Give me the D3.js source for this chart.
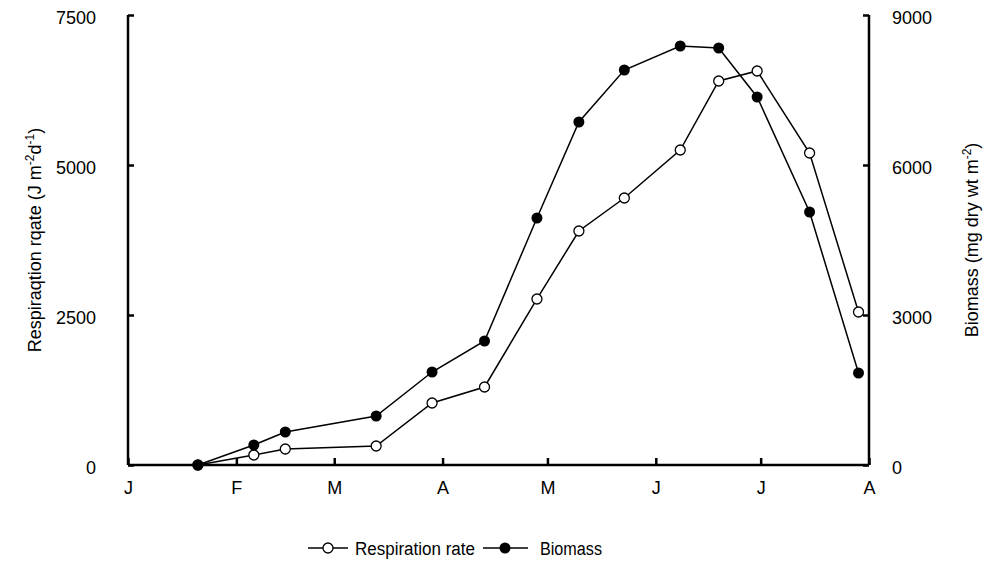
<!DOCTYPE html>
<html><head><meta charset="utf-8">
<script src="https://cdnjs.cloudflare.com/ajax/libs/d3/7.8.5/d3.min.js"></script>
<style>body{margin:0;background:#fff}svg{font-family:"Liberation Sans Narrow","Liberation Sans",Arial,sans-serif}</style>
</head><body><svg width="990" height="585"></svg>
<script>
// day of year for each sample
var days = [20, 36, 45, 71, 87, 102, 117, 129, 142, 158, 169, 180, 195, 209]
var respiration = [0, 167, 267, 317, 1033, 1300, 2767, 3900, 4450, 5250, 6400, 6567, 5200, 2550]
var biomass = [0, 400, 660, 980, 1860, 2480, 4940, 6860, 7900, 8380, 8340, 7360, 5060, 1840]
var monthDays = [0, 31, 59, 90, 120, 151, 181, 212]
var monthLabels = ["J", "F", "M", "A", "M", "J", "J", "A"]

var svg = d3.select("svg")
var x = d3.scaleLinear().domain([0, 212]).range([128, 869])
var yL = d3.scaleLinear().domain([0, 7500]).range([465, 15])
var yR = d3.scaleLinear().domain([0, 9000]).range([465, 15])

var axL = svg.append("g").attr("transform", "translate(128,0)")
  .call(d3.axisLeft(yL).tickValues([0, 2500, 5000, 7500]).tickSize(-6).tickPadding(32).tickFormat(d3.format("d")))
var axR = svg.append("g").attr("transform", "translate(869,0)")
  .call(d3.axisRight(yR).tickValues([0, 3000, 6000, 9000]).tickSize(-6).tickPadding(23).tickFormat(d3.format("d")))
var axB = svg.append("g").attr("transform", "translate(0,465)")
  .call(d3.axisBottom(x).tickValues(monthDays).tickSize(-7).tickPadding(16).tickFormat(function(d, i){ return monthLabels[i] }))
;[axL, axR, axB].forEach(function(a){
  a.attr("font-size", 18).attr("font-family", null)
  a.selectAll("path,line").attr("stroke", "#000").attr("stroke-width", 2.5)
  a.select(".domain").attr("d", a === axB ? "M128,0H869" : "M0,15V465")
  a.selectAll("text").attr("fill", "#000")
})
axL.selectAll("text").attr("dy", "0.45em")
axR.selectAll("text").attr("dy", "0.45em")

var lineR = d3.line().x(function(d, i){ return x(days[i]) }).y(function(d){ return yL(d) })
var lineB = d3.line().x(function(d, i){ return x(days[i]) }).y(function(d){ return yR(d) })
svg.append("path").attr("d", lineR(respiration)).attr("fill", "none").attr("stroke", "#000").attr("stroke-width", 1.5)
svg.append("path").attr("d", lineB(biomass)).attr("fill", "none").attr("stroke", "#000").attr("stroke-width", 1.5)
svg.selectAll(".pr").data(respiration).enter().append("circle")
  .attr("cx", function(d, i){ return x(days[i]) }).attr("cy", function(d){ return yL(d) })
  .attr("r", 5).attr("fill", "#fff").attr("stroke", "#000").attr("stroke-width", 1.3)
svg.selectAll(".pb").data(biomass).enter().append("circle")
  .attr("cx", function(d, i){ return x(days[i]) }).attr("cy", function(d){ return yR(d) })
  .attr("r", 5.5).attr("fill", "#000")

var tl = svg.append("text").attr("transform", "translate(41,240) rotate(-90)").attr("text-anchor", "middle").attr("font-size", 18)
tl.append("tspan").text("Respiraqtion rqate (J m")
tl.append("tspan").text("-2").attr("font-size", 12).attr("dy", -7)
tl.append("tspan").text("d").attr("dy", 7)
tl.append("tspan").text("-1").attr("font-size", 12).attr("dy", -7)
tl.append("tspan").text(")").attr("dy", 7)
var tr = svg.append("text").attr("transform", "translate(978,240) rotate(-90)").attr("text-anchor", "middle").attr("font-size", 18)
tr.append("tspan").text("Biomass (mg dry wt m")
tr.append("tspan").text("-2").attr("font-size", 12).attr("dy", -7)
tr.append("tspan").text(")").attr("dy", 7)

var lg = svg.append("g")
lg.append("line").attr("x1", 308).attr("x2", 348).attr("y1", 548).attr("y2", 548).attr("stroke", "#000").attr("stroke-width", 1.5)
lg.append("circle").attr("cx", 328).attr("cy", 548).attr("r", 5).attr("fill", "#fff").attr("stroke", "#000").attr("stroke-width", 1.3)
lg.append("text").attr("x", 355).attr("y", 555).attr("font-size", 18).attr("textLength", 120).attr("lengthAdjust", "spacingAndGlyphs").text("Respiration rate")
lg.append("line").attr("x1", 483).attr("x2", 528).attr("y1", 548).attr("y2", 548).attr("stroke", "#000").attr("stroke-width", 1.5)
lg.append("circle").attr("cx", 505).attr("cy", 548).attr("r", 5.5).attr("fill", "#000")
lg.append("text").attr("x", 540).attr("y", 555).attr("font-size", 18).attr("textLength", 62).attr("lengthAdjust", "spacingAndGlyphs").text("Biomass")
</script></body></html>
